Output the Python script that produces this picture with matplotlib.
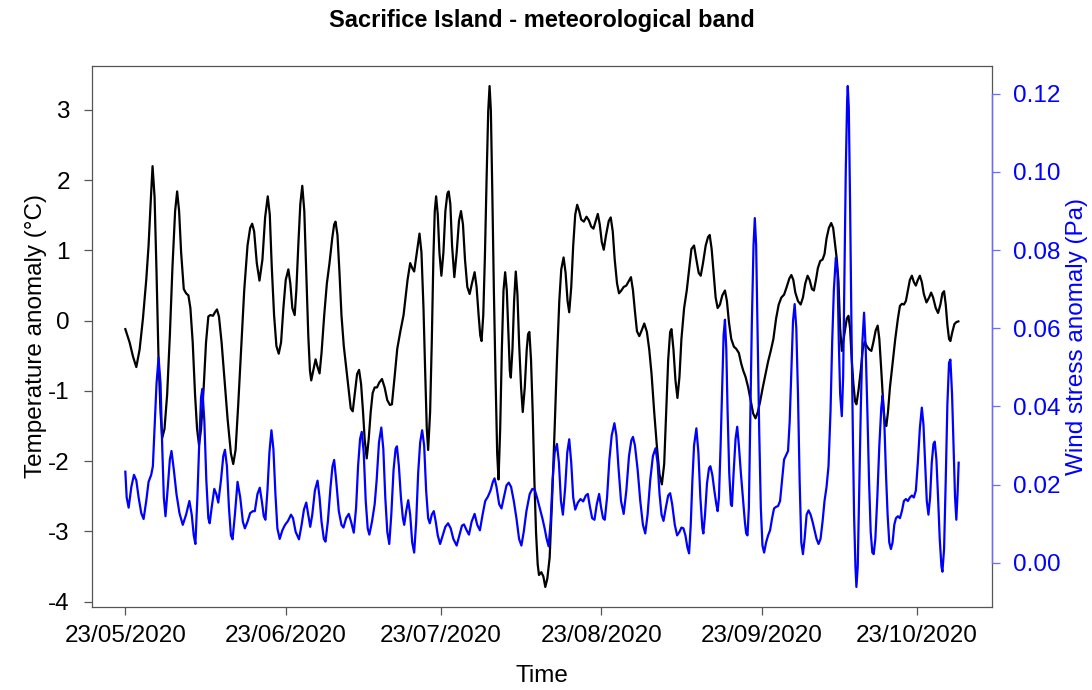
import pandas as pd
import matplotlib
matplotlib.use('Agg')
import matplotlib.pyplot as plt
import matplotlib.dates as mdates

plt.rcParams['font.family'] = ['Liberation Sans', 'DejaVu Sans']
plt.rcParams['axes.unicode_minus'] = False

start = pd.Timestamp('2020-05-23')

# temperature anomaly (degC), time in days since start
temp_day = [
    0.0, 0.83, 1.48, 2.12, 2.76, 3.40, 4.04, 4.49, 4.88, 5.26, 5.65, 6.03, 6.42, 6.80, 7.12, 7.57,
    8.08, 8.60, 9.11, 9.62, 10.01, 10.39, 10.78, 11.29, 11.74, 12.19, 12.57, 13.02, 13.47, 13.86,
    14.24, 14.63, 15.14, 15.59, 16.04, 16.42, 16.94, 17.32, 17.71, 18.09, 18.60, 19.12, 19.76,
    20.40, 20.85, 21.30, 21.81, 22.45, 22.97, 23.61, 24.12, 24.51, 24.89, 25.40, 25.92,
    26.49, 27.01, 27.52, 27.91, 28.29, 28.74, 29.19, 29.64, 30.09, 30.54, 30.99, 31.50, 31.88,
    32.27, 32.72, 33.04, 33.42, 33.81, 34.19, 34.58, 34.96, 35.35, 35.67, 35.92, 36.31, 36.76,
    37.14, 37.53, 37.91, 38.43, 38.94, 39.45, 39.97, 40.35, 40.61, 40.99, 41.38, 41.76, 42.21,
    42.66, 43.17, 43.56, 43.94, 44.33, 44.78, 45.16, 45.55, 45.93, 46.25, 46.64, 47.02, 47.41,
    47.79, 48.18, 48.63, 49.07, 49.59, 50.10, 50.61, 51.13, 51.51, 52.03, 52.54,
    53.12, 53.76, 54.53, 55.04, 55.43, 55.81, 56.33, 56.84, 57.22, 57.61, 57.93, 58.25, 58.51,
    58.89, 59.21, 59.53, 59.79, 60.05, 60.37, 60.69, 61.07, 61.46, 61.84, 62.23, 62.48, 62.80,
    63.13, 63.57, 64.02, 64.47, 64.86, 65.24, 65.63, 66.08, 66.53, 66.97, 67.49, 67.87, 68.26,
    68.58, 68.83, 69.16, 69.48, 69.80, 70.12, 70.38, 70.63, 70.89, 71.21, 71.53, 71.85, 72.11,
    72.43, 72.75, 73.07, 73.39, 73.71, 74.03, 74.29, 74.48, 74.80, 75.12, 75.44, 75.76, 76.08,
    76.47, 76.79, 77.18, 77.56, 77.82, 78.07, 78.39, 78.71, 79.04, 79.36, 79.68, 79.93, 80.38,
    80.77, 81.15, 81.54, 81.99,
    82.44, 82.95, 83.40, 83.85, 84.23, 84.68, 85.07, 85.45, 85.77, 86.16, 86.54, 86.93, 87.31,
    87.70, 88.08, 88.59, 89.11, 89.56, 90.01, 90.45, 90.90, 91.29, 91.67, 92.06, 92.44, 92.89,
    93.41, 93.79, 94.18, 94.56, 95.01, 95.39, 95.84, 96.29, 96.80, 97.32, 97.70, 98.09, 98.47,
    98.86, 99.31, 99.76, 100.27, 100.78, 101.23, 101.68, 102.19, 102.71, 103.22, 103.67, 104.12,
    104.50, 104.89, 105.27, 105.53, 105.91, 106.30, 106.68, 107.07, 107.45, 107.97, 108.48,
    108.99, 109.38, 109.89,
    110.34, 110.79, 111.18, 111.62, 112.14, 112.59, 112.91, 113.29, 113.68, 114.06, 114.45,
    114.90, 115.35, 115.86, 116.24, 116.63, 117.08, 117.59, 118.04, 118.55, 119.00, 119.39,
    119.84, 120.35, 120.86, 121.31, 121.76, 122.21, 122.66, 123.17, 123.69, 124.20, 124.71,
    125.22, 125.74, 126.25, 126.76, 127.28, 127.79, 128.30, 128.69, 129.07, 129.46, 129.97,
    130.49, 130.93, 131.38, 131.83, 132.22, 132.67, 133.05, 133.44, 133.82, 134.27, 134.72,
    135.10, 135.49, 135.94, 136.39, 136.77, 137.16, 137.48, 137.80,
    138.12, 138.44, 138.89, 139.40, 139.72, 140.04, 140.36, 140.68, 141.01, 141.26, 141.65,
    142.10, 142.48, 142.87, 143.25, 143.76, 144.15, 144.53, 144.98, 145.37, 145.69, 146.07,
    146.46, 146.78, 147.04, 147.36, 147.74, 148.25, 148.77, 149.28, 149.67, 150.05, 150.44,
    150.82, 151.21, 151.59, 151.98, 152.36, 152.75, 153.13, 153.52, 153.90, 154.29, 154.80,
    155.31, 155.70, 156.08, 156.59, 157.04, 157.49, 157.88, 158.20, 158.52, 158.84, 159.16,
    159.42, 159.80, 160.19, 160.57, 160.96,
]
temp_anom = [
    -0.12, -0.31, -0.51, -0.66, -0.41, 0.03, 0.58, 1.07, 1.66, 2.20, 1.76, 0.68, -0.56, -1.30,
    -1.67, -1.54, -1.05, -0.21, 0.77, 1.56, 1.84, 1.56, 0.97, 0.45, 0.39, 0.36, 0.18, -0.31,
    -1.05, -1.54, -1.77, -1.54, -0.95, -0.31, 0.06, 0.08, 0.07, 0.12, 0.16, 0.06, -0.31, -0.80,
    -1.40, -1.89, -2.04, -1.84, -1.20, -0.31, 0.43, 1.07, 1.32, 1.38, 1.27, 0.82, 0.57,
    0.87, 1.47, 1.77, 1.51, 0.77, 0.08, -0.36, -0.47, -0.31, 0.18, 0.58, 0.73, 0.53,
    0.18, 0.08, 0.43, 1.07, 1.66, 1.92, 1.56, 0.68, -0.21, -0.71, -0.85, -0.71, -0.55,
    -0.66, -0.75, -0.46, 0.08, 0.53, 0.82, 1.17, 1.37, 1.41, 1.22, 0.68, 0.08, -0.36,
    -0.66, -1.00, -1.25, -1.29, -1.05, -0.76, -0.70, -0.90, -1.30, -1.69, -1.96, -1.69, -1.30,
    -1.03, -0.95, -0.95, -0.88, -0.83, -0.95, -1.13, -1.20, -1.19, -0.80, -0.40,
    -0.16, 0.08, 0.58, 0.82, 0.75, 0.70, 0.97, 1.24, 0.97, 0.18, -0.71, -1.54, -1.84,
    -1.30, -0.31, 0.92, 1.56, 1.77, 1.51, 0.97, 0.64, 0.97, 1.56, 1.81, 1.84, 1.66,
    1.07, 0.62, 0.97, 1.42, 1.56, 1.37, 0.87, 0.48, 0.38, 0.53, 0.69, 0.48, 0.08,
    -0.21, -0.29, 0.08, 0.92, 2.01, 2.99, 3.34, 2.99, 1.91, 0.43, -0.80, -1.89, -2.26,
    -1.54, -0.41, 0.43, 0.69, 0.43, -0.21, -0.71, -0.81, -0.41, 0.28, 0.70, 0.38, -0.31,
    -0.95, -1.30, -0.95, -0.41, -0.19, -0.16, -0.56, -1.30, -2.28, -3.02, -3.47, -3.62, -3.58,
    -3.64, -3.79, -3.67, -3.37,
    -2.58, -1.54, -0.56, 0.28, 0.73, 0.90, 0.68, 0.28, 0.12, 0.48, 1.07, 1.51, 1.65,
    1.56, 1.44, 1.41, 1.48, 1.43, 1.34, 1.31, 1.42, 1.52, 1.37, 1.12, 1.01, 1.22,
    1.42, 1.47, 1.27, 0.87, 0.53, 0.39, 0.43, 0.48, 0.50, 0.57, 0.62, 0.43, 0.13,
    -0.15, -0.22, -0.14, -0.04, -0.16, -0.41, -0.76, -1.30, -1.79, -2.19, -2.33, -2.04,
    -1.30, -0.56, -0.16, -0.12, -0.41, -0.85, -1.10, -0.80, -0.26, 0.18, 0.43,
    0.77, 1.02, 1.07,
    0.87, 0.68, 0.64, 0.82, 1.07, 1.19, 1.22, 1.02, 0.68, 0.33, 0.18,
    0.23, 0.36, 0.43, 0.28, -0.02, -0.26, -0.37, -0.40, -0.46, -0.61, -0.71,
    -0.80, -0.95, -1.15, -1.32, -1.39, -1.30, -1.15, -0.95, -0.76, -0.58, -0.43,
    -0.26, 0.03, 0.23, 0.33, 0.37, 0.48, 0.60, 0.65, 0.58, 0.40, 0.28,
    0.23, 0.33, 0.53, 0.64, 0.58, 0.45, 0.43, 0.58, 0.75, 0.85, 0.87,
    0.95, 1.17, 1.32, 1.39, 1.32, 1.07, 0.87, 0.55,
    -0.11, -0.43, -0.21, 0.03, 0.07, -0.11, -0.56, -0.90, -1.15, -1.19, -1.00,
    -0.71, -0.41, -0.30, -0.36, -0.41, -0.43, -0.31, -0.14, -0.07, -0.26, -0.71,
    -1.20, -1.47, -1.50, -1.30, -0.95, -0.61, -0.26, 0.03, 0.21, 0.24, 0.23,
    0.28, 0.43, 0.58, 0.64, 0.55, 0.50, 0.58, 0.64, 0.55, 0.38, 0.26,
    0.33, 0.40, 0.33, 0.18, 0.11, 0.23, 0.39, 0.42, 0.23, -0.06, -0.26,
    -0.29, -0.16, -0.05, -0.02, -0.01,
]

# wind stress anomaly (Pa), time in days since start
wind_day = [
    0.0, 0.26, 0.64, 1.16, 1.67, 2.12, 2.57, 3.08, 3.53, 4.04, 4.49, 5.00, 5.32, 5.65, 6.03,
    6.42, 6.80, 7.12, 7.44, 7.76, 8.21, 8.60, 8.92, 9.37, 9.88, 10.46, 11.10, 11.74, 12.38,
    12.83, 13.22, 13.54, 13.92, 14.31, 14.63, 14.88, 15.27, 15.65, 16.04, 16.30, 16.68, 17.19,
    17.58, 17.96, 18.48, 18.93, 19.25, 19.63, 20.02, 20.40, 20.72, 21.17, 21.68, 22.20, 22.71,
    23.10, 23.61, 24.12, 24.64, 25.02, 25.53,
    25.98, 26.37, 26.75, 27.07, 27.46, 27.84, 28.23, 28.61, 29.00, 29.38, 29.83, 30.34, 30.86,
    31.43, 32.01, 32.40, 32.91, 33.55, 34.06, 34.51, 34.96, 35.35, 35.73, 36.12, 36.63, 37.14,
    37.53, 37.91, 38.36, 38.68, 39.13, 39.65, 40.03, 40.35, 40.74, 41.25, 41.76, 42.15, 42.66,
    43.17, 43.62, 44.14, 44.59, 44.97, 45.36, 45.68, 46.06, 46.45, 46.83, 47.15, 47.66, 48.18,
    48.56, 49.01, 49.46, 49.85, 50.23, 50.62, 51.00, 51.39, 51.83, 52.22, 52.48, 52.86, 53.25,
    53.63,
    53.89, 54.27, 54.66, 55.04, 55.43, 55.81, 56.20, 56.58, 56.97, 57.35, 57.74, 58.12, 58.51,
    58.83, 59.21, 59.60, 59.98, 60.37, 60.82, 61.33, 61.84, 62.36, 62.87, 63.38, 64.02, 64.54,
    65.05, 65.44, 65.95, 66.40, 66.91, 67.49, 68.00, 68.51, 69.03, 69.54, 70.05, 70.57, 71.02,
    71.34, 71.72, 72.23, 72.68, 73.13, 73.65, 74.09, 74.54, 75.06, 75.57, 76.08, 76.53, 76.98,
    77.50, 78.14, 78.65, 79.10, 79.55, 80.06, 80.58, 81.02, 81.41, 81.79,
    82.18, 82.56, 82.95, 83.40, 83.78, 84.17, 84.55, 85.00, 85.39, 85.77, 86.16, 86.54, 86.93,
    87.44, 87.95, 88.47, 88.98, 89.36, 89.75, 90.20, 90.65, 91.10, 91.55, 91.93, 92.31, 92.64,
    93.08, 93.53, 93.98, 94.50, 94.88, 95.27, 95.78, 96.29, 96.81, 97.32, 97.77, 98.09, 98.47,
    98.99, 99.50, 100.01, 100.46, 100.91, 101.42, 101.94, 102.45, 102.84, 103.22, 103.61,
    103.99, 104.44, 104.89, 105.27, 105.66, 106.17, 106.62, 107.07, 107.45, 107.84, 108.22,
    108.61, 108.93, 109.25, 109.57, 109.89,
    110.34, 110.73, 111.11, 111.50, 111.69, 112.01, 112.39, 112.78, 113.04, 113.42, 113.81,
    114.19, 114.45, 114.70, 115.02, 115.35, 115.60, 115.86, 116.12, 116.37, 116.69, 117.01,
    117.21, 117.53, 117.91, 118.23, 118.55, 118.94, 119.32, 119.71, 119.96, 120.22, 120.48,
    120.73, 121.05, 121.38, 121.63, 121.89, 122.15, 122.47, 122.79, 123.11, 123.43, 123.81,
    124.20, 124.58, 124.97, 125.35, 125.74, 126.12, 126.51, 126.89, 127.28, 127.66, 128.05,
    128.37, 128.69, 129.01, 129.33, 129.65, 129.97, 130.29, 130.61, 130.93, 131.25, 131.64,
    132.02, 132.41, 132.79, 133.18, 133.56, 133.95, 134.33, 134.72, 135.10, 135.49, 135.87,
    136.26, 136.58, 136.90, 137.29, 137.61,
    137.86, 138.12, 138.44, 138.70, 138.95, 139.21, 139.47, 139.59, 139.79, 140.04, 140.30,
    140.56, 140.81, 141.07, 141.26, 141.52, 141.78, 142.10, 142.42, 142.74, 143.06, 143.38,
    143.70, 144.02, 144.34, 144.60, 144.92, 145.30, 145.69, 146.07, 146.33, 146.65, 146.97,
    147.29, 147.61, 147.93, 148.25, 148.58, 148.90, 149.28, 149.67, 150.05, 150.44, 150.82,
    151.21, 151.59, 151.98, 152.36, 152.75, 153.13, 153.52, 153.90, 154.22, 154.54, 154.86,
    155.18, 155.50, 155.82, 156.15, 156.40, 156.72, 157.04, 157.36, 157.69, 157.88, 158.20,
    158.52, 158.84, 159.16, 159.42, 159.74, 160.06, 160.32, 160.57, 160.83, 161.02,
]
wind_anom = [
    0.0233, 0.0167, 0.0141, 0.0194, 0.0225, 0.0211, 0.0167, 0.0127, 0.0112, 0.0158, 0.0207,
    0.0225, 0.0247, 0.0344, 0.0459, 0.0525, 0.0459, 0.0300, 0.0167, 0.0119, 0.0194, 0.0264,
    0.0286, 0.0238, 0.0176, 0.0127, 0.0097, 0.0123, 0.0158, 0.0123, 0.0070, 0.0048, 0.0167,
    0.0317, 0.0423, 0.0445, 0.0362, 0.0211, 0.0114, 0.0101, 0.0141, 0.0189, 0.0176, 0.0154,
    0.0211, 0.0273, 0.0289, 0.0247, 0.0141, 0.0070, 0.0060, 0.0123, 0.0207, 0.0167, 0.0105,
    0.0088, 0.0105, 0.0127, 0.0132, 0.0132, 0.0176,
    0.0192, 0.0158, 0.0119, 0.0110, 0.0185, 0.0282, 0.0339, 0.0291, 0.0176, 0.0088, 0.0061,
    0.0083, 0.0097, 0.0107, 0.0123, 0.0114, 0.0079, 0.0060, 0.0097, 0.0136, 0.0154, 0.0123,
    0.0092, 0.0123, 0.0185, 0.0210, 0.0167, 0.0105, 0.0061, 0.0054, 0.0105, 0.0194, 0.0247,
    0.0263, 0.0211, 0.0132, 0.0097, 0.0090, 0.0114, 0.0125, 0.0105, 0.0077, 0.0141, 0.0247,
    0.0317, 0.0335, 0.0282, 0.0158, 0.0088, 0.0072, 0.0105, 0.0150, 0.0211, 0.0308, 0.0346,
    0.0291, 0.0167, 0.0079, 0.0048, 0.0123, 0.0238, 0.0291, 0.0298, 0.0247, 0.0167, 0.0114,
    0.0097, 0.0132, 0.0160, 0.0123, 0.0052, 0.0026, 0.0105, 0.0229, 0.0308, 0.0339, 0.0300,
    0.0185, 0.0114, 0.0101, 0.0123, 0.0132, 0.0105, 0.0070, 0.0048, 0.0070, 0.0092, 0.0101,
    0.0088, 0.0061, 0.0044, 0.0070, 0.0095, 0.0098, 0.0083, 0.0072, 0.0105, 0.0125, 0.0097,
    0.0083, 0.0123, 0.0158, 0.0169, 0.0185, 0.0207, 0.0216, 0.0194, 0.0150, 0.0139, 0.0167,
    0.0198, 0.0205, 0.0194, 0.0158, 0.0114, 0.0061, 0.0044, 0.0079, 0.0132, 0.0176, 0.0189,
    0.0187, 0.0167, 0.0141, 0.0114, 0.0088, 0.0061, 0.0042,
    0.0105, 0.0211, 0.0282, 0.0304, 0.0256, 0.0158, 0.0123, 0.0194, 0.0282, 0.0316, 0.0256,
    0.0167, 0.0136, 0.0154, 0.0163, 0.0157, 0.0172, 0.0176, 0.0145, 0.0114, 0.0110, 0.0150,
    0.0176, 0.0141, 0.0114, 0.0110, 0.0167, 0.0264, 0.0326, 0.0357, 0.0326, 0.0247, 0.0158,
    0.0125, 0.0185, 0.0273, 0.0313, 0.0322, 0.0300, 0.0238, 0.0158, 0.0097, 0.0075, 0.0123,
    0.0211, 0.0273, 0.0293, 0.0256, 0.0176, 0.0123, 0.0107, 0.0141, 0.0172, 0.0178, 0.0150,
    0.0097, 0.0070, 0.0079, 0.0090, 0.0088, 0.0070, 0.0039, 0.0024, 0.0097, 0.0211, 0.0300,
    0.0344, 0.0282, 0.0167, 0.0088, 0.0075, 0.0123, 0.0203, 0.0242, 0.0247, 0.0225, 0.0185,
    0.0150, 0.0132, 0.0167, 0.0300, 0.0459, 0.0582, 0.0622, 0.0547, 0.0388, 0.0229, 0.0150,
    0.0145, 0.0229, 0.0317, 0.0348, 0.0300, 0.0229, 0.0167, 0.0105, 0.0075, 0.0070, 0.0141,
    0.0344, 0.0609, 0.0812, 0.0882, 0.0812, 0.0609, 0.0344, 0.0141, 0.0044, 0.0026, 0.0052,
    0.0070, 0.0083, 0.0114, 0.0139, 0.0143, 0.0145, 0.0158, 0.0211, 0.0264, 0.0275, 0.0286,
    0.0362, 0.0494, 0.0618, 0.0662, 0.0600, 0.0432, 0.0211, 0.0052, 0.0022, 0.0061, 0.0123,
    0.0134, 0.0123, 0.0105, 0.0083, 0.0061, 0.0048, 0.0061, 0.0105, 0.0158, 0.0194, 0.0247,
    0.0388, 0.0565, 0.0697, 0.0781, 0.0741,
    0.0565, 0.0432, 0.0375, 0.0476, 0.0741, 0.1006, 0.1183, 0.1220, 0.1165, 0.0918, 0.0609,
    0.0344, 0.0123, -0.0009, -0.0062, -0.0009, 0.0167, 0.0388, 0.0565, 0.0640, 0.0547, 0.0388,
    0.0211, 0.0079, 0.0026, 0.0022, 0.0061, 0.0167, 0.0300, 0.0397, 0.0428, 0.0362, 0.0229,
    0.0123, 0.0052, 0.0035, 0.0052, 0.0097, 0.0114, 0.0119, 0.0114, 0.0132, 0.0158, 0.0163,
    0.0158, 0.0167, 0.0172, 0.0167, 0.0185, 0.0256, 0.0344, 0.0397, 0.0353, 0.0256, 0.0158,
    0.0123, 0.0167, 0.0256, 0.0304, 0.0310, 0.0264, 0.0167, 0.0061, -0.0009, -0.0023, 0.0035,
    0.0211, 0.0406, 0.0512, 0.0520, 0.0432, 0.0282, 0.0167, 0.0110, 0.0185, 0.0256,
]

tick_dates = ['2020-05-23', '2020-06-23', '2020-07-23', '2020-08-23', '2020-09-23', '2020-10-23']
temp_ticks = [-4, -3, -2, -1, 0, 1, 2, 3]
wind_ticks = [0.00, 0.02, 0.04, 0.06, 0.08, 0.10, 0.12]

t_temp = start + pd.to_timedelta(temp_day, unit='D')
t_wind = start + pd.to_timedelta(wind_day, unit='D')

box_col = '#555555'
axis_blue = '#6b6bff'
fs = 17.5

fig = plt.figure(figsize=(10.92, 6.9), dpi=100)
ax1 = fig.add_axes([92 / 1092, 83 / 690, 900 / 1092, 541 / 690])
ax1.plot(t_temp, temp_anom, color='black', lw=1.6)
ax1.margins(x=0.04, y=0.04)

ax2 = ax1.twinx()
ax2.plot(t_wind, wind_anom, color='blue', lw=1.6)
ax2.margins(x=0.04, y=0.04)

for sp in ax1.spines.values():
    sp.set_color(box_col)
    sp.set_linewidth(0.9)
for name in ['left', 'top', 'bottom']:
    ax2.spines[name].set_visible(False)
ax2.spines['right'].set_color(axis_blue)
ax2.spines['right'].set_linewidth(1.0)
ax2.spines['right'].set_bounds(wind_ticks[0], wind_ticks[-1])

ax1.set_xticks(pd.to_datetime(tick_dates))
ax1.xaxis.set_major_formatter(mdates.DateFormatter('%d/%m/%Y'))
ax1.set_yticks(temp_ticks)
ax2.set_yticks(wind_ticks)
ax2.set_yticklabels(['%.2f' % v for v in wind_ticks])

ax1.tick_params(axis='both', direction='out', length=6, width=0.9, color=box_col,
                labelsize=fs)
ax1.tick_params(axis='x', pad=7)
ax1.tick_params(axis='y', pad=10)
ax2.tick_params(axis='y', direction='out', length=6, width=0.9, color=axis_blue,
                labelcolor='blue', labelsize=fs, pad=9)

ax1.set_xlabel('Time', fontsize=fs, va='center')
ax1.xaxis.set_label_coords(0.5, -0.1275)
ax1.set_ylabel('Temperature anomaly (\u00b0C)', fontsize=fs, va='center')
ax1.yaxis.set_label_coords(-0.062, 0.5)
ax2.set_ylabel('Wind stress anomaly (Pa)', fontsize=fs, color='blue', va='center')
ax2.yaxis.set_label_coords(1.094, 0.5)

fig.text(542 / 1092, 1 - 21 / 690, 'Sacrifice Island - meteorological band',
         ha='center', va='center', fontsize=17, fontweight='bold')

fig.savefig('out.png', dpi=100)
